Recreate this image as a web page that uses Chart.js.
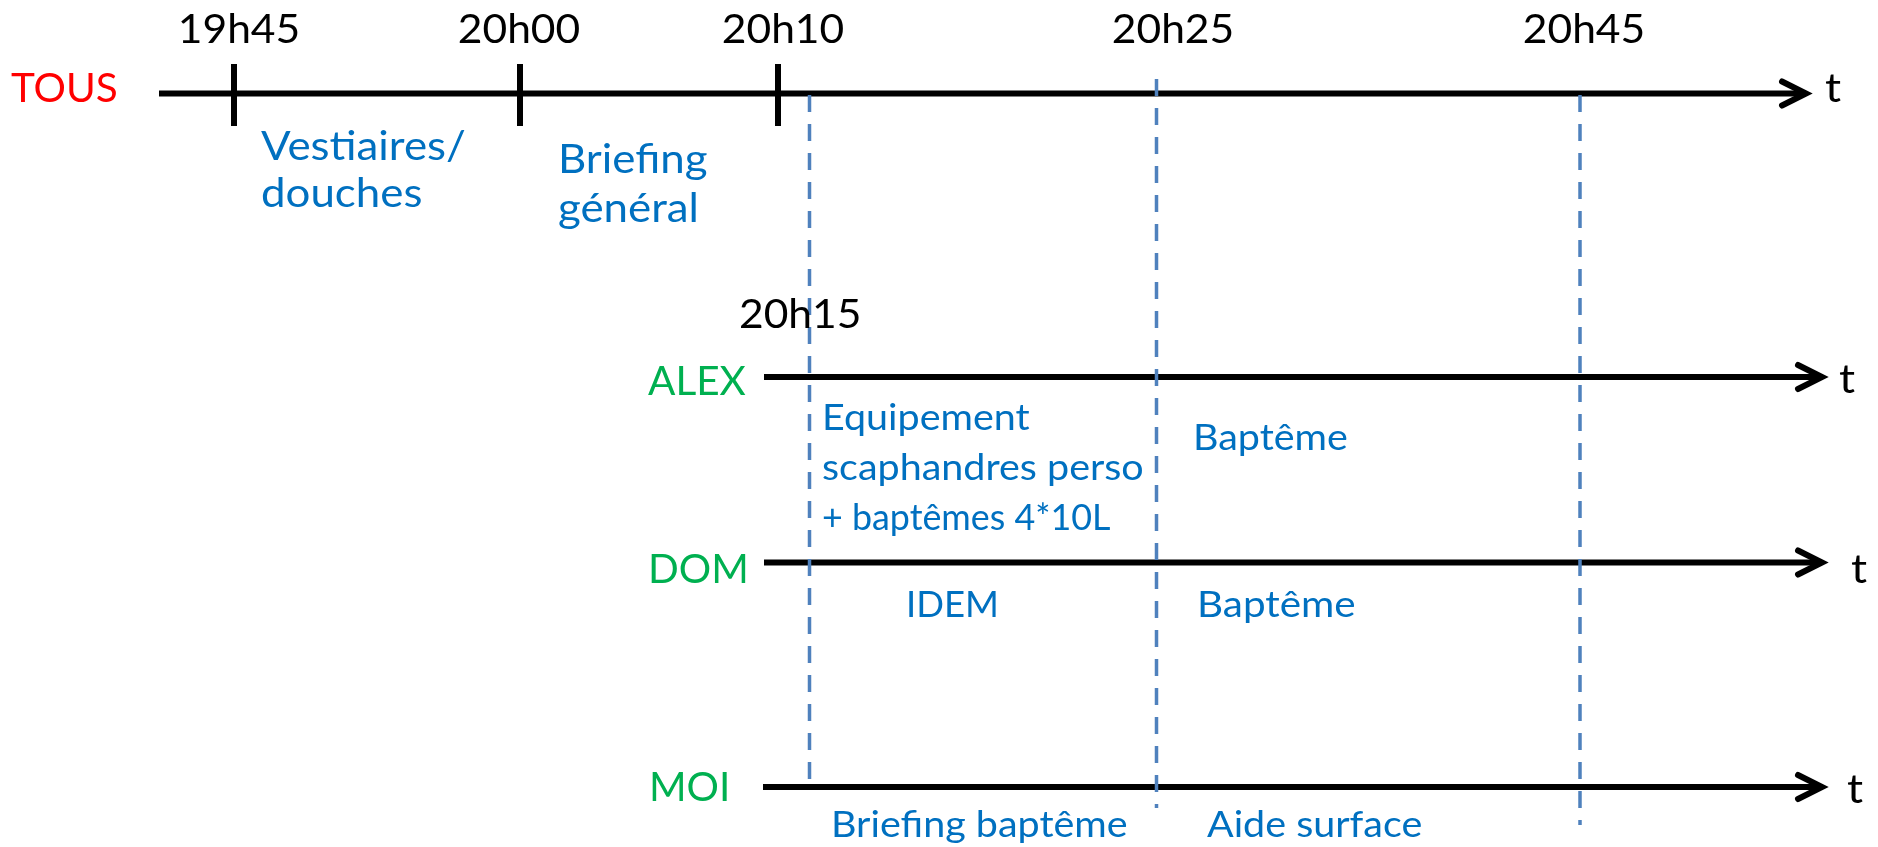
<!DOCTYPE html>
<html>
<head>
<meta charset="utf-8">
<script src="https://cdn.jsdelivr.net/npm/chart.js@4/dist/chart.umd.min.js"></script>
<style>
html,body{margin:0;padding:0;background:#fff;}
canvas{display:block;}
</style>
</head>
<body>
<canvas id="c" width="1878" height="847"></canvas>
<script>
// ---- diagram data (abstract diagram units: x = time position, y = row level) ----
const rowNames   = ['TOUS', 'ALEX', 'DOM', 'MOI'];
const rowLevel   = [93.5, 377, 562.5, 787];
const rowStart   = [159, 764, 764, 763];
const rowEnd     = [1806, 1822, 1822, 1822];

const tickTimes  = ['19h45', '20h00', '20h10'];
const tickX      = [234, 520, 778];
const tickTop    = 64;
const tickBottom = 126;

const dashTimes  = ['20h15', '20h25', '20h45'];
const dashX      = [809.5, 1156.5, 1580];
const dashTop    = [95, 79, 95];
const dashBottom = [782, 808, 825];

const timeLabels = ['19h45', '20h00', '20h10', '20h25', '20h45'];
const timeLabelX = [239, 519, 783, 1173, 1584];

const activities = [
  'Vestiaires/', 'douches',
  'Briefing', 'général',
  'Equipement', 'scaphandres perso', '+ baptêmes 4*10L',
  'Baptême',
  'IDEM', 'Baptême',
  'Briefing baptême', 'Aide surface'
];
const activityX = [261, 261, 558, 558, 822, 822, 822, 1193, 906, 1197, 831, 1207];
const activityY = [160, 207, 173, 222, 430, 480, 530, 450, 617, 617, 837, 837];
const activitySize = [45, 45, 45, 45, 40.5, 40.5, 40.5, 40.5, 41.5, 41.5, 40.5, 40.5];

// ---- styling / layout (not data) ----
const BLACK = '#000000', BLUE_TXT = '#0070C0', DASH = '#4F81BD', RED = '#FF0000', GREEN = '#00B050';
const FONT = 'Lato';
const CAP_RATIO = 0.644 / 0.717; // convert Calibri-like size to Lato size
function condense(s) {
  const lower = /[a-gi-z]/.test(s), digit = /[0-9]/.test(s);
  if (lower && digit) return 0.985;       // mixed text with numbers
  if (lower) return 1.085;                // mixed case text
  if (digit) return 1.03;                 // time labels
  return 0.98;                            // all caps
}

const rowLabelX = [11, 648, 648, 649];
const rowLabelY = [102, 395, 583, 801];
const rowLabelColor = [RED, GREEN, GREEN, GREEN];
const tLabelX = [1825, 1839, 1851, 1847];
const tLabelY = [102, 393, 583, 803];

function seg(points, color, width, dash) {
  return {
    type: 'scatter', showLine: true, data: points,
    borderColor: color, backgroundColor: color, borderWidth: width,
    borderDash: dash || [], pointRadius: 0, pointHoverRadius: 0,
    borderCapStyle: 'butt', borderJoinStyle: 'miter', tension: 0, fill: false
  };
}

const datasets = [];
// dashed vertical markers
dashX.forEach((x, i) => {
  datasets.push(seg([{x: x, y: dashTop[i]}, {x: x, y: dashBottom[i]}], DASH, 3.5, [17, 12]));
});
// timelines
rowNames.forEach((n, i) => {
  const y = rowLevel[i];
  datasets.push(seg([{x: rowStart[i], y: y}, {x: rowEnd[i] - 3, y: y}], BLACK, 6));
  const d = seg([{x: rowEnd[i] - 24, y: y - 12}, {x: rowEnd[i], y: y}, {x: rowEnd[i] - 24, y: y + 12}], BLACK, 6);
  d.borderCapStyle = 'round';
  datasets.push(d);
});
// solid ticks on TOUS
tickX.forEach(x => {
  datasets.push(seg([{x: x, y: tickTop}, {x: x, y: tickBottom}], BLACK, 6));
});

const textPlugin = {
  id: 'texts',
  afterDatasetsDraw(chart) {
    const ctx = chart.ctx, xs = chart.scales.x, ys = chart.scales.y;
    function txt(s, x, y, color, size, align) {
      ctx.save();
      ctx.font = (size * CAP_RATIO).toFixed(2) + 'px ' + FONT;
      ctx.fillStyle = color;
      ctx.textBaseline = 'alphabetic';
      ctx.textAlign = align || 'left';
      ctx.translate(xs.getPixelForValue(x), ys.getPixelForValue(y));
      ctx.scale(condense(s), 1);
      ctx.fillText(s, 0, 0);
      ctx.restore();
    }
    timeLabels.forEach((t, i) => txt(t, timeLabelX[i], 43, BLACK, 46, 'center'));
    txt(dashTimes[0], 739, 328, BLACK, 46, 'left');
    rowNames.forEach((n, i) => txt(n, rowLabelX[i], rowLabelY[i], rowLabelColor[i], 46, 'left'));
    rowNames.forEach((n, i) => txt('t', tLabelX[i], tLabelY[i], BLACK, 46, 'left'));
    activities.forEach((a, i) => txt(a, activityX[i], activityY[i], BLUE_TXT, activitySize[i], 'left'));
  }
};

function build() {
  new Chart(document.getElementById('c'), {
    type: 'scatter',
    data: { datasets: datasets },
    options: {
      responsive: false, animation: false, devicePixelRatio: 1,
      layout: { padding: 0 },
      plugins: { legend: { display: false }, tooltip: { enabled: false } },
      events: [],
      scales: {
        x: { type: 'linear', min: 0, max: 1878, display: false },
        y: { type: 'linear', min: 0, max: 847, reverse: true, display: false }
      }
    },
    plugins: [textPlugin]
  });
}
if (document.fonts && document.fonts.load) {
  Promise.all([document.fonts.load('40px Lato')]).then(build, build);
} else { build(); }
</script>
</body>
</html>
